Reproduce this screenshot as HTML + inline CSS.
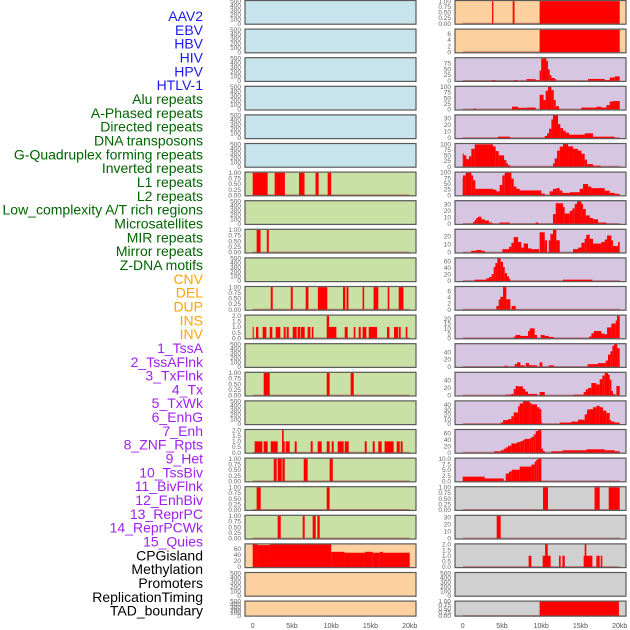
<!DOCTYPE html>
<html><head><meta charset="utf-8">
<style>
html,body{margin:0;padding:0;background:#fff;width:630px;height:630px;overflow:hidden}
svg{display:block}
text{font-family:"Liberation Sans",sans-serif}
</style></head>
<body>
<svg id="chart" width="630" height="630" xmlns="http://www.w3.org/2000/svg"></svg>
<script>
// ---- labels ----
const trackLabels = ["AAV2","EBV","HBV","HIV","HPV","HTLV-1","Alu repeats","A-Phased repeats","Directed repeats","DNA transposons","G-Quadruplex forming repeats","Inverted repeats","L1 repeats","L2 repeats","Low_complexity A/T rich regions","Microsatellites","MIR repeats","Mirror repeats","Z-DNA motifs","CNV","DEL","DUP","INS","INV","1_TssA","2_TssAFlnk","3_TxFlnk","4_Tx","5_TxWk","6_EnhG","7_Enh","8_ZNF_Rpts","9_Het","10_TssBiv","11_BivFlnk","12_EnhBiv","13_ReprPC","14_ReprPCWk","15_Quies","CPGisland","Methylation","Promoters","ReplicationTiming","TAD_boundary"];
const labelGroupColors = ["#1a1aee","#1a1aee","#1a1aee","#1a1aee","#1a1aee","#1a1aee","#006400","#006400","#006400","#006400","#006400","#006400","#006400","#006400","#006400","#006400","#006400","#006400","#006400","#ffa500","#ffa500","#ffa500","#ffa500","#ffa500","#a020f0","#a020f0","#a020f0","#a020f0","#a020f0","#a020f0","#a020f0","#a020f0","#a020f0","#a020f0","#a020f0","#a020f0","#a020f0","#a020f0","#a020f0","#000000","#000000","#000000","#000000","#000000"];
const xTickValues = [0,5,10,15,20];
const xTickLabels = ["0","5kb","10kb","15kb","20kb"];

// ---- left column tracks: [startKb, endKb, value] ----
const leftAlu = [[0,1.9,1],[2.8,4.1,1],[5.9,6.6,1],[8.0,8.4,1],[9.55,10.0,1]];
const leftDirected = [[0.5,1.0,1],[1.8,2.05,1]];
const leftGQuad = [[2.3,2.55,1],[4.85,5.1,1],[6.75,7.1,1],[8.3,9.5,1],[11.5,11.8,1],[11.95,12.2,1],[14.0,14.2,1],[15.4,16.0,1],[17.2,17.4,1],[18.6,19.2,1]];
const leftInverted = [[0,0.13,1],[0.42,0.72,1],[1.27,1.74,1],[2.17,2.5,1],[2.93,3.52,1],[3.95,4.2,1],[4.33,4.59,1],[5.1,5.6,1],[5.73,6.03,1],[6.11,6.62,1],[7.0,7.35,1],[7.52,7.73,1],[9.47,10.66,1],[9.43,9.73,2],[11.72,12.1,1],[12.87,13.08,1],[13.5,13.76,1],[14.0,14.48,1],[14.78,15.84,1],[17.11,17.41,1],[18.0,18.51,1],[18.6,18.85,1],[19.49,19.7,1]];
const leftL2 = [[1.4,2.17,1],[9.43,9.8,1],[12.48,12.87,1]];
const leftMicro = [[0.25,1.23,1],[1.4,1.91,1],[2.29,3.18,1],[3.74,4.08,1],[3.74,3.95,2],[4.2,4.71,1],[5.35,5.6,1],[7.39,7.64,1],[8.28,8.79,1],[9.43,9.8,1],[10.06,10.32,1],[10.83,11.59,1],[11.72,12.23,1],[14.27,14.52,1],[15.29,15.54,1],[16.0,16.43,1],[16.8,17.96,1],[18.34,18.73,1],[18.85,19.1,1]];
const leftMIR = [[2.68,3.05,1],[3.18,3.7,1],[3.78,4.08,1],[6.5,7.0,1],[9.8,10.2,1]];
const leftMirror = [[0.5,1.02,1],[9.43,9.8,1]];
const leftZDNA = [[3.18,3.57,1],[6.37,6.62,1],[7.64,8.03,1],[8.24,8.54,1]];
const leftCNV = [[0,0.6,74],[0.6,2.2,72],[2.2,10.0,74],[10.0,11.7,50],[11.7,14.3,47],[14.3,15.3,50],[15.3,16.2,47],[16.2,16.6,50],[16.6,20,47]];

// ---- right column tracks ----
const rightINS = [[3.74,3.9,1],[6.37,6.6,1],[9.8,20,1]];
const rightINV = [[9.8,20,7.4]];
const right1TssA = [[3.74,4.16,3],[6.5,6.96,3],[8.1,9.3,7],[9.3,9.8,3],[9.8,10.0,44],[10.0,10.23,96],[10.23,10.66,97],[10.66,10.87,86],[10.87,11.08,49],[11.08,11.3,24],[11.3,11.72,12],[11.72,11.93,7],[15.97,18.1,8],[18.1,18.73,3],[18.73,19.36,14],[19.36,20,19]];
const right2TssAFlnk = [[1.3,1.7,3],[6.28,7.05,12],[7.05,8.1,7],[8.1,9.3,8],[9.8,10.3,65],[10.3,10.57,42],[10.57,10.87,83],[10.87,11.3,100],[11.3,11.6,86],[11.6,11.85,42],[11.85,12.27,14],[15.1,17.03,8],[17.03,17.66,12],[17.66,18.3,8],[18.3,18.73,19],[18.73,19.15,35],[19.15,20,37]];
const right3TxFlnk = [[4.5,6.0,2],[10.45,10.74,3],[10.74,11.0,7],[11.0,11.3,14],[11.3,11.5,28],[11.5,12.14,34],[12.14,12.44,21],[12.44,12.78,15],[12.78,13.12,11],[13.12,13.55,8],[13.55,15.54,5],[15.54,16.6,7],[16.6,19.36,2]];
const right4Tx = [[0,0.13,58],[0.13,0.47,50],[0.47,0.81,33],[0.81,1.1,46],[1.1,1.53,79],[1.53,3.86,99],[3.86,4.2,90],[4.2,4.59,69],[4.59,5.27,50],[5.27,5.56,29],[5.56,5.77,14],[5.77,6.07,6],[11.5,11.72,14],[11.72,12.02,36],[12.02,12.36,71],[12.36,12.78,89],[12.78,13.42,100],[13.42,14.06,90],[14.06,14.69,79],[14.69,15.12,71],[15.12,15.54,57],[15.54,15.84,31],[15.84,16.6,11],[16.6,17.54,4]];
const right5TxWk = [[0,0.04,76],[0.04,0.38,87],[0.38,1.1,99],[1.1,1.32,87],[1.32,1.61,66],[1.61,3.86,28],[3.86,4.29,24],[4.29,4.71,17],[4.71,5.05,45],[5.05,5.35,87],[5.35,6.2,99],[6.2,6.5,73],[6.5,6.84,38],[6.84,7.26,28],[7.26,10.02,21],[10.02,10.45,7],[11.08,11.5,17],[11.5,11.93,28],[11.93,12.36,31],[12.36,12.7,20],[12.7,13.63,10],[13.63,14.9,13],[14.9,15.33,28],[15.33,15.97,49],[15.97,16.39,38],[16.39,18.09,31],[18.09,18.73,20],[18.73,19.36,10],[19.36,20,6]];
const right6EnhG = [[1.32,1.53,3],[1.53,1.74,6],[1.74,1.95,9],[1.95,2.38,11],[2.38,2.8,7],[2.8,3.35,5],[3.35,3.78,2],[4.71,5.99,2],[9.3,9.64,2],[11.5,11.85,15],[11.85,12.78,32],[12.78,12.99,26],[12.99,13.63,16],[13.63,13.97,20],[13.97,14.27,24],[14.27,14.56,31],[14.56,15.12,35],[15.12,15.33,31],[15.33,15.67,23],[15.67,16.18,13],[16.18,16.6,9],[16.6,17.24,7],[17.24,18.3,2]];
const right7Enh = [[1.1,1.74,2],[1.74,2.38,3],[2.38,2.8,2],[5.05,5.9,4],[5.9,6.2,7],[6.2,6.5,12],[6.5,7.05,19],[7.05,7.47,13],[7.47,7.77,6],[7.77,8.32,11],[8.32,8.75,5],[8.75,9.72,4],[9.8,10.45,25],[10.45,10.74,15],[10.96,11.17,15],[11.17,11.5,23],[11.5,11.93,28],[11.93,12.36,15],[14.06,14.69,4],[14.69,15.12,6],[15.12,15.54,12],[15.54,15.75,17],[15.75,16.18,22],[16.18,16.6,17],[16.6,17.66,11],[17.66,18.09,13],[18.09,18.39,16],[18.39,18.94,21],[18.94,19.15,15],[19.15,19.79,8],[19.79,20,13]];
const right8ZNF = [[1.53,3.01,4],[3.01,3.35,8],[3.35,3.69,12],[3.69,3.95,21],[3.95,4.16,43],[4.16,4.42,55],[4.42,4.84,69],[4.84,5.14,59],[5.14,5.35,43],[5.35,5.65,24],[5.65,5.9,14],[5.9,6.07,6],[12.78,16.52,4]];
const right9Het = [[4.29,4.59,1.2],[4.59,4.8,3.3],[4.8,5.14,4.2],[5.14,5.56,7.4],[5.56,6.07,3.4],[6.24,6.75,1.2]];
const right10TssBiv = [[6.5,6.75,1.7],[6.75,7.35,3.3],[7.35,8.32,2.3],[8.32,8.54,7.3],[8.54,9.17,10],[9.17,9.47,3.3],[9.94,10.45,3.3],[10.45,10.96,2.3],[10.96,11.6,1.3],[16.1,16.4,1.7],[16.4,16.7,5],[16.7,17.66,7.3],[17.66,18.09,4.7],[18.09,18.39,4],[18.39,18.94,11],[18.94,19.49,15],[19.49,19.66,18],[19.66,20,23]];
const right11BivFlnk = [[5.35,5.69,3],[6.62,6.92,7],[6.92,7.35,12],[7.35,7.9,4],[8.03,8.45,10],[8.45,9.47,4],[9.8,10.15,12],[10.96,11.6,4],[15.92,17.24,7],[17.24,18.22,10],[18.22,18.51,17],[18.51,18.81,33],[18.81,19.07,42],[19.07,19.28,57],[19.28,19.7,61],[19.7,20,50]];
const right12EnhBiv = [[5.48,6.2,2],[6.2,6.5,4],[6.5,6.75,17],[6.75,7.05,25],[7.05,7.69,24],[7.69,7.98,17],[7.98,8.32,10],[8.32,9.47,4],[9.8,10.45,9],[14.14,15.41,2],[15.41,15.67,9],[15.67,15.97,16],[15.97,16.39,20],[16.39,17.03,33],[17.03,17.45,29],[17.45,17.79,43],[17.79,18.09,53],[18.09,18.51,60],[18.51,18.73,55],[18.73,18.94,42],[18.94,19.15,12],[19.15,19.49,3],[19.58,20,25]];
const right13ReprPC = [[4.84,5.14,3],[5.14,5.77,8],[5.77,6.2,10],[6.2,6.5,16],[6.5,7.05,24],[7.05,7.26,37],[7.26,7.69,43],[7.69,8.54,47],[8.54,8.75,44],[8.75,9.47,41],[9.47,9.8,35],[9.8,10.02,31],[10.02,10.15,3],[12.36,13.84,3],[13.84,14.69,5],[14.69,15.54,9],[15.54,15.84,20],[15.84,16.1,30],[16.1,16.6,31],[16.6,17.03,35],[17.03,17.45,38],[17.45,17.88,35],[17.88,18.3,28],[18.3,18.73,23],[18.73,18.94,8],[18.94,19.36,5],[19.36,20,3]];
const right14ReprPCWk = [[3.99,4.84,4],[4.84,5.22,7],[5.22,5.48,12],[5.48,5.77,16],[5.77,6.2,21],[6.2,6.92,28],[6.92,7.35,32],[7.35,7.69,35],[7.69,7.9,39],[7.9,8.54,42],[8.54,8.75,44],[8.75,9.04,48],[9.04,9.3,56],[9.3,9.6,66],[9.6,10.02,69],[10.02,10.23,12],[10.23,10.45,5],[11.3,12.7,4],[12.7,15.75,7],[15.75,18.09,10],[18.09,19.36,7],[19.36,20,4]];
const right15Quies = [[0,2.8,2],[2.8,5.22,1.2],[5.48,5.9,3.4],[5.9,6.24,4.3],[6.24,7.26,5.1],[7.26,8.75,6.5],[8.75,9.17,7.4],[9.17,9.38,8.7],[9.38,9.64,9.6],[9.64,10.02,10]];
const rightCPG = [[10.23,10.87,1],[16.8,17.45,1],[18.6,20,1]];
const rightMethylation = [[4.33,4.84,32]];
const rightPromoters = [[8.4,8.75,1],[10.19,11.2,1],[10.5,10.83,2],[12.27,12.48,1],[12.7,13.0,1],[15.41,16.52,1],[15.54,15.75,2],[17.03,17.45,1],[17.58,17.79,1]];
const rightTAD = [[9.8,19.9,1]];
const emptyTrack = [];

const leftTracks = [emptyTrack,emptyTrack,emptyTrack,emptyTrack,emptyTrack,emptyTrack,leftAlu,emptyTrack,leftDirected,emptyTrack,leftGQuad,leftInverted,emptyTrack,leftL2,emptyTrack,leftMicro,leftMIR,leftMirror,leftZDNA,leftCNV,emptyTrack,emptyTrack];
const rightTracks = [rightINS,rightINV,right1TssA,right2TssAFlnk,right3TxFlnk,right4Tx,right5TxWk,right6EnhG,right7Enh,right8ZNF,right9Het,right10TssBiv,right11BivFlnk,right12EnhBiv,right13ReprPC,right14ReprPCWk,right15Quies,rightCPG,rightMethylation,rightPromoters,emptyTrack,rightTAD];
const leftTickSets = [[0,100,200,300,400,500],[0,100,200,300,400,500],[0,100,200,300,400,500],[0,100,200,300,400,500],[0,100,200,300,400,500],[0,100,200,300,400,500],[0,0.25,0.5,0.75,1],[0,100,200,300,400,500],[0,0.25,0.5,0.75,1],[0,100,200,300,400,500],[0,0.25,0.5,0.75,1],[0,0.5,1,1.5,2],[0,100,200,300,400,500],[0,0.25,0.5,0.75,1],[0,100,200,300,400,500],[0,0.5,1,1.5,2],[0,0.25,0.5,0.75,1],[0,0.25,0.5,0.75,1],[0,0.25,0.5,0.75,1],[0,20,40,60],[0,100,200,300,400,500],[0,100,200,300,400,500]];
const rightTickSets = [[0,0.25,0.5,0.75,1],[0,2,4,6],[0,25,50,75],[0,25,50,75,100],[0,10,20,30],[0,25,50,75,100],[0,25,50,75,100],[0,10,20,30],[0,10,20],[0,20,40,60],[0,2,4,6],[0,5,10,15,20],[0,20,40],[0,20,40],[0,10,20,30,40],[0,20,40,60],[0,2.5,5,7.5,10],[0,0.25,0.5,0.75,1],[0,10,20,30],[0,0.5,1,1.5,2],[0,100,200,300,400,500],[0,0.25,0.5,0.75,1]];
const leftBg = ["#c7e3ec","#c7e3ec","#c7e3ec","#c7e3ec","#c7e3ec","#c7e3ec","#c9e1a5","#c9e1a5","#c9e1a5","#c9e1a5","#c9e1a5","#c9e1a5","#c9e1a5","#c9e1a5","#c9e1a5","#c9e1a5","#c9e1a5","#c9e1a5","#c9e1a5","#fdd19f","#fdd19f","#fdd19f"];
const rightBg = ["#fdd19f","#fdd19f","#d6c6e1","#d6c6e1","#d6c6e1","#d6c6e1","#d6c6e1","#d6c6e1","#d6c6e1","#d6c6e1","#d6c6e1","#d6c6e1","#d6c6e1","#d6c6e1","#d6c6e1","#d6c6e1","#d6c6e1","#d0d0d0","#d0d0d0","#d0d0d0","#d0d0d0","#d0d0d0"];

const NS = "http://www.w3.org/2000/svg";
const svg = document.getElementById('chart');
function mk(tag, attrs, parent){ const e=document.createElementNS(NS,tag); for(const k in attrs) e.setAttribute(k,attrs[k]); (parent||svg).appendChild(e); return e; }

const ROW_PITCH = 28.6;
function rowTop(i){ return i*ROW_PITCH; }
function rowH(i){ return i===21 ? 16 : 24.7; }
const columns = [
  {px0:245, px1:416, x0:252.7, x1:409.7, tickX:241, tracks:leftTracks, ticks:leftTickSets, bg:leftBg, offset:0, side:'left'},
  {px0:455, px1:626, x0:462.7, x1:619.7, tickX:451, tracks:rightTracks, ticks:rightTickSets, bg:rightBg, offset:22, side:'right'}
];
function fmtTick(v, ticks){
  const step = ticks[1]-ticks[0];
  if (step < 0.5 || ticks[ticks.length-1] <= 1) return v.toFixed(2);
  if (step % 1 !== 0 || ticks[ticks.length-1] <= 2) return v.toFixed(1);
  return String(v);
}

// labels
trackLabels.forEach((lab,i)=>{
  const t = mk('text',{x:203,y:(16+i*13.83+5).toFixed(1),'text-anchor':'end','font-size':'14',fill:labelGroupColors[i]});
  t.textContent = lab;
  
  
});

columns.forEach(col=>{
  const xs = kb => col.x0 + (kb/20)*(col.x1-col.x0);
  col.tracks.forEach((data,i)=>{
    const top = rowTop(i), h = rowH(i), bot = top+h;
    let M = 0; data.forEach(d=>{ if(d[2]>M) M=d[2]; });
    if (M === 0) M = 500;
    const ys = v => bot - (v + 0.05*M)/(1.1*M)*h;
    const g = mk('g',{});
    
    
    mk('rect',{x:col.px0,y:top,width:col.px1-col.px0,height:h,fill:col.bg[i]},g);
    if (data.length){
      mk('line',{x1:xs(0),x2:xs(20),y1:ys(0),y2:ys(0),stroke:'#b03030','stroke-opacity':0.55,'stroke-width':1.6},g);
    }
    data.forEach(d=>{
      const r = mk('rect',{x:xs(d[0]).toFixed(2),y:ys(d[2]).toFixed(2),width:Math.max(0.8,xs(d[1])-xs(d[0])).toFixed(2),height:(ys(0)-ys(d[2])).toFixed(2),fill:'#ff0000'},g);
      
      
    });
    mk('rect',{x:col.px0,y:top+0.5,width:col.px1-col.px0,height:h-1,fill:'none',stroke:'#5a5a5a','stroke-width':1.2},g);
    col.ticks[i].forEach(v=>{
      const t = mk('text',{x:col.tickX,y:(ys(v)+2.2).toFixed(1),'text-anchor':'end','font-size':'6.5',fill:'#666'},g);
      t.textContent = fmtTick(v,col.ticks[i]);
      
      
    });
  });
  xTickValues.forEach((v,k)=>{
    const t = mk('text',{x:xs(v),y:628,'text-anchor':'middle','font-size':'7',fill:'#555'});
    t.textContent = xTickLabels[k];
    
    
  });
});
</script>
</body></html>
